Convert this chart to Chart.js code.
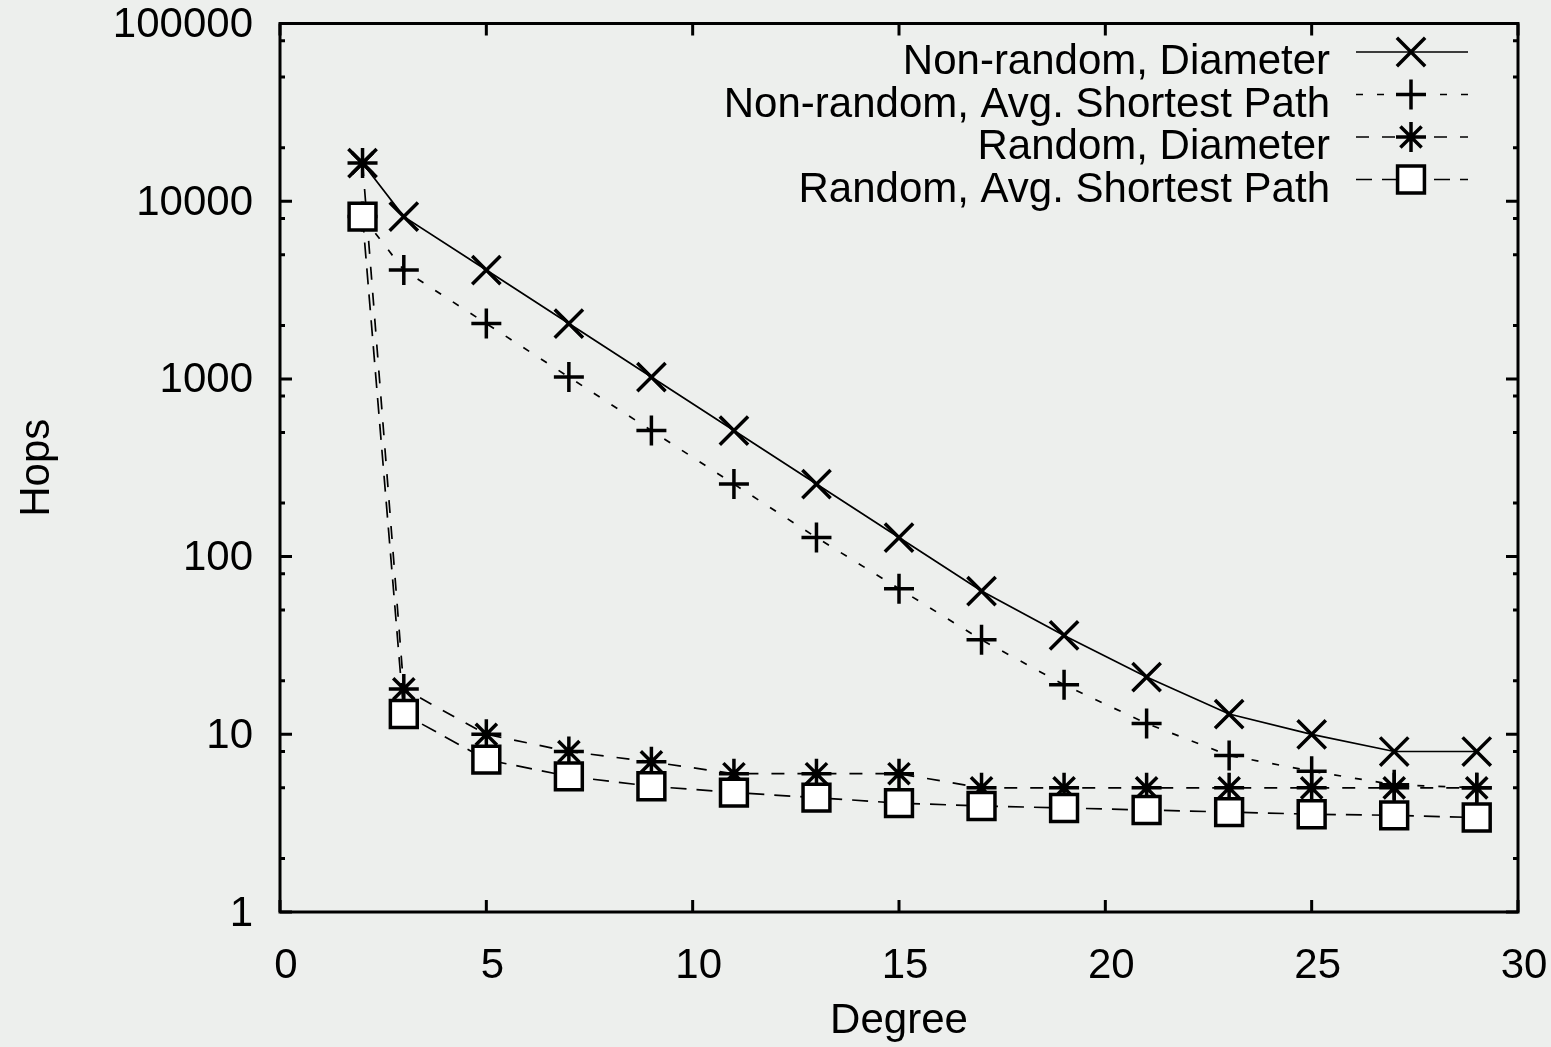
<!DOCTYPE html>
<html>
<head>
<meta charset="utf-8">
<script src="https://cdn.jsdelivr.net/npm/chart.js@4.4.1/dist/chart.umd.min.js"></script>
<style>
  html, body { margin: 0; padding: 0; background: #edefed; }
  #wrap { width: 1551px; height: 1047px; }
</style>
</head>
<body>
<div id="wrap"><canvas id="hopsChart" width="1551" height="1047"></canvas></div>
<script>
// Data (x = degree, y = hops)
const degrees = [2, 3, 5, 7, 9, 11, 13, 15, 17, 19, 21, 23, 25, 27, 29];
const nonRandomDiameter = [16384, 8192, 4096, 2048, 1024, 512, 256, 128, 64, 36, 21, 13, 10, 8, 8];
const nonRandomAvgPath = [8192, 4096, 2048, 1024, 512, 256, 128, 66, 34, 19, 11.5, 7.6, 6.2, 5.2, 5];
const randomDiameter = [16384, 18, 10, 8, 7, 6, 6, 6, 5, 5, 5, 5, 5, 5, 5];
const randomAvgPath = [8192, 13, 7.2, 5.8, 5.1, 4.7, 4.4, 4.1, 3.95, 3.85, 3.75, 3.65, 3.55, 3.5, 3.4];

const xTicks = [0, 5, 10, 15, 20, 25, 30];
const yTicks = [1, 10, 100, 1000, 10000, 100000];
const yMinorSteps = [2, 5, 8];

const FONT = '"Liberation Sans", Arial, Helvetica, sans-serif';
const FONT_SIZE = 42;

function pts(ys) {
    return degrees.map((d, i) => ({ x: d, y: ys[i] }));
}

// gnuplot draws later curves on top, so give them a lower chart.js order
function series(label, ys, style, radius, dash, order) {
    return {
        label: label,
        data: pts(ys),
        order: order,
        borderColor: '#000',
        borderWidth: 1.7,
        borderDash: dash,
        pointStyle: style,
        pointRadius: radius,
        pointHoverRadius: radius,
        pointBorderWidth: 3.5,
        pointBorderColor: '#000',
        pointBackgroundColor: '#fff',
        fill: false,
        tension: 0
    };
}

// frame, inward ticks (mirrored) and the key
const framePlugin = {
    id: 'frame',
    afterDraw(chart) {
        const ctx = chart.ctx;
        const a = chart.chartArea;
        const xs = chart.scales.x, ys = chart.scales.y;
        ctx.save();
        ctx.strokeStyle = '#000';
        ctx.lineWidth = 3;
        ctx.strokeRect(a.left, a.top, a.right - a.left, a.bottom - a.top);

        ctx.beginPath();
        xTicks.forEach(v => {
            const px = xs.getPixelForValue(v);
            ctx.moveTo(px, a.bottom); ctx.lineTo(px, a.bottom - 12);
            ctx.moveTo(px, a.top); ctx.lineTo(px, a.top + 12);
        });
        yTicks.forEach((v, i) => {
            const py = ys.getPixelForValue(v);
            ctx.moveTo(a.left, py); ctx.lineTo(a.left + 12, py);
            ctx.moveTo(a.right, py); ctx.lineTo(a.right - 12, py);
            if (i < yTicks.length - 1) {
                yMinorSteps.forEach(m => {
                    const pm = ys.getPixelForValue(v * m);
                    ctx.moveTo(a.left, pm); ctx.lineTo(a.left + 5, pm);
                    ctx.moveTo(a.right, pm); ctx.lineTo(a.right - 5, pm);
                });
            }
        });
        ctx.stroke();

        // key: text right-aligned, sample on the right
        ctx.font = FONT_SIZE + 'px ' + FONT;
        ctx.textAlign = 'right';
        ctx.textBaseline = 'alphabetic';
        chart.data.datasets.forEach((ds, i) => {
            const y = 52 + i * 42.5;
            ctx.fillStyle = '#000';
            ctx.fillText(ds.label, 1330, y + 22);
            ctx.lineWidth = ds.borderWidth;
            ctx.setLineDash(ds.borderDash || []);
            ctx.beginPath();
            ctx.moveTo(1356, y); ctx.lineTo(1468, y);
            ctx.stroke();
            ctx.setLineDash([]);
            ctx.lineWidth = ds.pointBorderWidth;
            ctx.fillStyle = ds.pointBackgroundColor;
            ctx.strokeStyle = '#000';
            Chart.helpers.drawPoint(ctx, {
                pointStyle: ds.pointStyle,
                radius: ds.pointRadius,
                borderWidth: ds.pointBorderWidth,
                rotation: 0
            }, 1411, y);
        });
        ctx.restore();
    }
};

document.addEventListener('DOMContentLoaded', function() {
    const ctx = document.getElementById('hopsChart').getContext('2d');
    new Chart(ctx, {
        type: 'line',
        data: {
            datasets: [
                series('Non-random, Diameter', nonRandomDiameter, 'crossRot', 20, [], 4),
                series('Non-random, Avg. Shortest Path', nonRandomAvgPath, 'cross', 15, [7, 14], 3),
                series('Random, Diameter', randomDiameter, 'star', 15, [13, 13], 2),
                series('Random, Avg. Shortest Path', randomAvgPath, 'rect', 19, [16, 10], 1)
            ]
        },
        options: {
            responsive: false,
            animation: false,
            devicePixelRatio: 1,
            layout: { padding: { top: 21, right: 33, left: 0, bottom: 0 } },
            plugins: {
                legend: { display: false },
                tooltip: { enabled: false }
            },
            scales: {
                x: {
                    type: 'linear',
                    min: 0,
                    max: 30,
                    afterFit: s => { s.height = 135; s.paddingLeft = 0; s.paddingRight = 0; },
                    afterBuildTicks: s => { s.ticks = xTicks.map(v => ({ value: v })); },
                    grid: { display: false, drawTicks: false },
                    border: { display: false },
                    ticks: {
                        color: '#000',
                        padding: 29,
                        labelOffset: 6,
                        maxRotation: 0,
                        font: { family: FONT, size: FONT_SIZE }
                    },
                    title: {
                        display: true,
                        text: 'Degree',
                        color: '#000',
                        padding: { top: 0, bottom: 0 },
                        font: { family: FONT, size: FONT_SIZE }
                    }
                },
                y: {
                    type: 'logarithmic',
                    min: 1,
                    max: 100000,
                    afterFit: s => { s.width = 280; s.paddingTop = 0; s.paddingBottom = 0; },
                    afterBuildTicks: s => { s.ticks = yTicks.map(v => ({ value: v })); },
                    grid: { display: false, drawTicks: false },
                    border: { display: false },
                    ticks: {
                        color: '#000',
                        padding: 27,
                        labelOffset: 2,
                        font: { family: FONT, size: FONT_SIZE },
                        callback: v => String(v)
                    },
                    title: {
                        display: true,
                        text: 'Hops',
                        color: '#000',
                        padding: { top: 12, bottom: 0 },
                        font: { family: FONT, size: FONT_SIZE }
                    }
                }
            }
        },
        plugins: [framePlugin]
    });
});
</script>
</body>
</html>
